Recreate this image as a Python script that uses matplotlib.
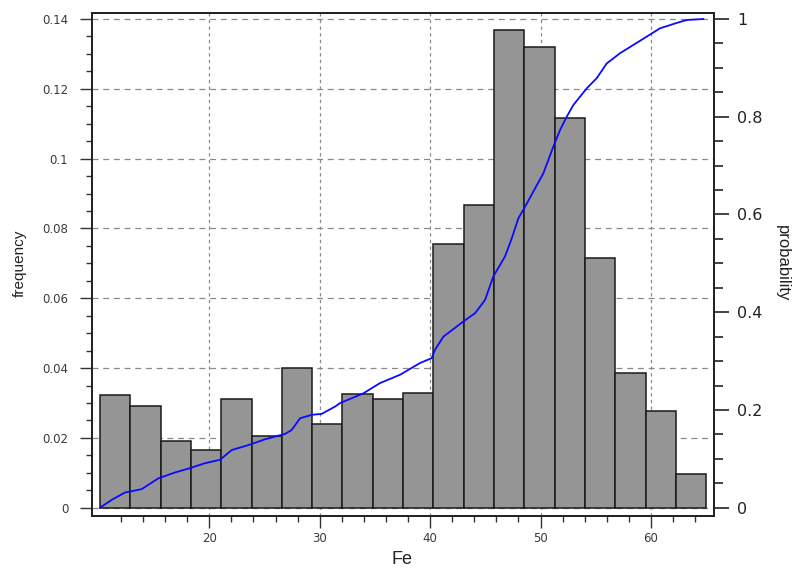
import numpy as np
import matplotlib
matplotlib.use("Agg")
import matplotlib.pyplot as plt
from matplotlib.ticker import MultipleLocator, FixedLocator

# histogram of Fe: bin edges and relative frequency of each bin
bin_edges = [10.10, 12.85, 15.59, 18.34, 21.08, 23.83, 26.57, 29.32, 32.06,
             34.81, 37.55, 40.30, 43.04, 45.79, 48.53, 51.28, 54.02, 56.77,
             59.51, 62.26, 65.00]
freq = [0.0322, 0.0291, 0.0190, 0.0164, 0.0311, 0.0206, 0.0400, 0.0239,
        0.0325, 0.0311, 0.0329, 0.0755, 0.0868, 0.1369, 0.1321, 0.1116,
        0.0716, 0.0385, 0.0277, 0.0097]

# cumulative probability curve
cdf_x = [10.10, 11.16, 12.36, 13.88, 15.38, 16.89, 18.25, 19.61, 20.97,
         22.03, 23.53, 25.05, 26.86, 27.46, 28.22, 29.28, 30.18, 31.39,
         31.84, 33.95, 35.46, 37.27, 39.08, 40.14, 40.44, 41.20, 43.01,
         44.07, 44.97, 45.72, 46.78, 47.39, 47.99, 48.60, 49.35, 50.25,
         51.16, 51.77, 52.37, 52.97, 54.18, 55.09, 55.99, 57.20, 58.41,
         59.62, 60.82, 62.34, 63.24, 64.75]
cdf_p = [0.000, 0.016, 0.031, 0.038, 0.060, 0.072, 0.081, 0.091, 0.098,
         0.118, 0.128, 0.140, 0.151, 0.159, 0.183, 0.190, 0.192, 0.207,
         0.214, 0.234, 0.255, 0.272, 0.296, 0.306, 0.323, 0.350, 0.381,
         0.398, 0.425, 0.473, 0.514, 0.551, 0.592, 0.616, 0.647, 0.684,
         0.739, 0.773, 0.800, 0.824, 0.858, 0.879, 0.909, 0.930, 0.947,
         0.964, 0.981, 0.992, 0.998, 1.000]

fe_ticks = [20, 30, 40, 50, 60]
fe_minor = list(range(12, 65, 2))
freq_ticks = [0, 0.02, 0.04, 0.06, 0.08, 0.1, 0.12, 0.14]
freq_labels = ["0", "0.02", "0.04", "0.06", "0.08", "0.1", "0.12", "0.14"]
prob_ticks = [0, 0.2, 0.4, 0.6, 0.8, 1.0]
prob_labels = ["0", "0.2", "0.4", "0.6", "0.8", "1"]

plt.rcParams['font.family'] = ['DejaVu Sans']
plt.rcParams['lines.scale_dashes'] = False

fig = plt.figure(figsize=(7.94, 5.70), dpi=100)
ax = fig.add_axes([92 / 794, 54 / 570, 622 / 794, 503 / 570])

widths = np.diff(bin_edges)
ax.bar(bin_edges[:-1], freq, width=widths, align='edge', color='#959595',
       edgecolor='#1a1a1a', linewidth=1.1, zorder=2)

ax.set_xlim(9.375, 65.71)
ax.set_ylim(-0.00238, 0.14172)

ax.set_xticks(fe_ticks)
ax.xaxis.set_minor_locator(FixedLocator(fe_minor))
ax.set_yticks(freq_ticks)
ax.set_yticklabels(freq_labels)
ax.yaxis.set_minor_locator(MultipleLocator(0.005))

ax.set_axisbelow(True)
ax.xaxis.grid(True, linestyle=(0, (2.4, 2.4)), color='#8a8a8a', linewidth=0.9)
ax.yaxis.grid(True, linestyle=(0, (4.3, 3.4)), color='#8a8a8a', linewidth=0.9)

ax.tick_params(axis='y', which='major', direction='out', length=8.6, width=1.0,
               color='#333333', labelsize=8.5, labelcolor='#3a3a3a', pad=8.5)
ax.tick_params(axis='y', which='minor', direction='out', length=4.3, width=1.0,
               color='#333333')
ax.tick_params(axis='x', which='major', direction='out', length=8.6, width=1.0,
               color='#333333', labelsize=8.5, labelcolor='#3a3a3a', pad=3)
ax.tick_params(axis='x', which='minor', direction='out', length=4.3, width=1.0,
               color='#333333')

for side in ['left', 'right', 'top', 'bottom']:
    ax.spines[side].set_color('#222222')
    ax.spines[side].set_linewidth(1.3)

ax2 = ax.twinx()
ax2.plot(cdf_x, cdf_p, color='#0a0aff', linewidth=1.3, zorder=3)
ax2.set_ylim(-0.017, 1.0123)
ax2.set_yticks(prob_ticks)
ax2.set_yticklabels(prob_labels)
ax2.yaxis.set_minor_locator(MultipleLocator(0.05))
ax2.tick_params(axis='y', which='major', direction='out', length=10.8, width=1.2,
                color='#222222', labelsize=11.5, labelcolor='#222222', pad=6)
ax2.tick_params(axis='y', which='minor', direction='out', length=6.5, width=1.2,
                color='#222222')
for side in ['left', 'right', 'top', 'bottom']:
    ax2.spines[side].set_color('#222222')
    ax2.spines[side].set_linewidth(1.3)

fig.text(20 / 794, 1 - 263 / 570, "frequency", rotation=90, ha='center',
         va='center', fontsize=11, color='#222222', family='Liberation Sans')
fig.text(782 / 794, 1 - 263 / 570, "probability", rotation=270, ha='center',
         va='center', fontsize=12, color='#222222', family='Liberation Sans')
fig.text(402 / 794, 1 - 560 / 570, "Fe", ha='center', va='center',
         fontsize=13, color='#222222', family='Liberation Sans')

fig.savefig("out.png", dpi=100)
